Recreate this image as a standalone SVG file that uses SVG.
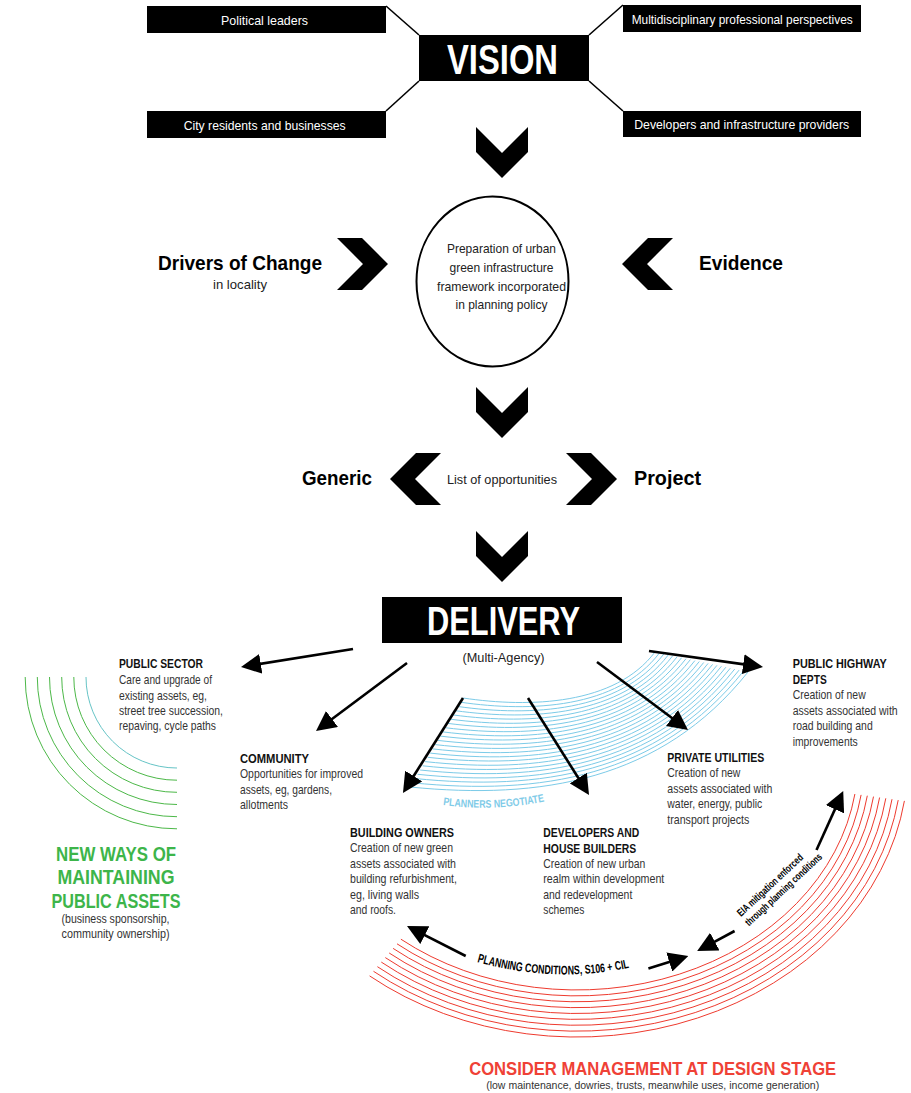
<svg xmlns="http://www.w3.org/2000/svg" width="911" height="1093" viewBox="0 0 911 1093">
<defs>
<style>
text { font-family: "Liberation Sans Narrow", "Liberation Sans", Arial, sans-serif; }
.bar { fill:#000; }
.bt { fill:#fff; font-size:13.5px; text-anchor:middle; }
.big { fill:#fff; font-weight:bold; text-anchor:middle; }
.lbl { fill:#000; font-weight:bold; font-size:21px; }
.mid { fill:#222; font-size:13px; }
.c { text-anchor:middle; }
.h { fill:#111; font-weight:bold; font-size:12.5px; }
.b { fill:#333; font-size:13px; }
.chev { fill:#000; }
.conn { stroke:#000; stroke-width:1.6; fill:none; }
.arr { stroke:#000; stroke-width:2.6; fill:none; marker-end:url(#ah); }
.blue path { stroke:#7ccbe8; stroke-width:1; fill:none; }
.red path { stroke:#ee3a2e; stroke-width:1; fill:none; }
.green path { stroke:#4cb848; stroke-width:1; fill:none; }
.gt { fill:#3db54a; font-weight:bold; font-size:20px; text-anchor:middle; }
.rt { fill:#ef4136; font-weight:bold; font-size:18px; text-anchor:middle; }
.small { fill:#000; font-weight:bold; }
</style>
<marker id="ah" viewBox="0 0 20 20" refX="10" refY="10" markerWidth="20" markerHeight="20" markerUnits="userSpaceOnUse" orient="auto">
<path d="M0,0 L20,10 L0,20 Z" fill="#000"/>
</marker>
<path id="chev" d="M0,0 L25,0 L51,26 L25,52 L0,52 L26,26 Z"/>
<path id="pn" d="M443,805 Q494,812 546,801"/>
<path id="pc" d="M477,962 Q556,984 633,967"/>
</defs>
<rect width="911" height="1093" fill="#fff"/>

<!-- background arcs -->
<g id="green-arcs" class="green">
<path d="M86,677 A91,91 0 0 0 177,768" style="stroke:#66c4c6"/>
<path d="M73.8,677 A103.2,103.2 0 0 0 177,780.2"/>
<path d="M61.7,677 A115.3,115.3 0 0 0 177,792.3"/>
<path d="M49.5,677 A127.5,127.5 0 0 0 177,804.5"/>
<path d="M37.3,677 A139.7,139.7 0 0 0 177,816.7"/>
<path d="M25.2,677 A151.8,151.8 0 0 0 177,828.8"/>
</g>

<g id="planners-negotiate-band" class="blue">
<path d="M463,698 C530,708 615,705 655,652"/>
<path d="M460.5,702.2 C530.5,712.4 617.2,708.6 659.4,653"/>
<path d="M458,706.5 C531,716.8 619.4,712.2 663.9,653.9"/>
<path d="M455.4,710.7 C531.4,721.1 621.6,715.9 668.3,654.9"/>
<path d="M452.9,714.9 C531.9,725.5 623.8,719.5 672.7,655.8"/>
<path d="M450.4,719.2 C532.4,729.9 626,723.1 677.1,656.8"/>
<path d="M447.9,723.4 C532.9,734.3 628.1,726.7 681.6,657.7"/>
<path d="M445.3,727.7 C533.3,738.7 630.3,730.3 686,658.7"/>
<path d="M442.8,731.9 C533.8,743 632.5,734 690.4,659.6"/>
<path d="M440.3,736.1 C534.3,747.4 634.7,737.6 694.9,660.6"/>
<path d="M437.8,740.4 C534.8,751.8 636.9,741.2 699.3,661.5"/>
<path d="M435.2,744.6 C535.2,756.2 639.1,744.8 703.7,662.5"/>
<path d="M432.7,748.9 C535.7,760.6 641.3,748.4 708.1,663.4"/>
<path d="M430.2,753.1 C536.2,765 643.5,752 712.6,664.4"/>
<path d="M427.7,757.3 C536.7,769.3 645.7,755.7 717,665.3"/>
<path d="M425.1,761.6 C537.1,773.7 647.9,759.3 721.4,666.3"/>
<path d="M422.6,765.8 C537.6,778.1 650,762.9 725.9,667.2"/>
<path d="M420.1,770 C538.1,782.5 652.2,766.5 730.3,668.2"/>
<path d="M417.6,774.3 C538.6,786.9 654.4,770.1 734.7,669.1"/>
<path d="M415,778.5 C539,791.2 656.6,773.8 739.1,670.1"/>
<path d="M412.5,782.8 C539.5,795.6 658.8,777.4 743.6,671"/>
<path d="M410,787 C540,800 661,781 748,672"/>
</g>

<g id="red-arcs" class="red">
<path d="M400.9,939.2 A281,230 0 0 0 854.9,794"/>
<path d="M397,943.8 A287.25,235.875 0 0 0 861.1,794.9"/>
<path d="M393.1,948.4 A293.5,241.75 0 0 0 867.3,795.7"/>
<path d="M389.2,953 A299.75,247.625 0 0 0 873.5,796.6"/>
<path d="M385.3,957.6 A306,253.5 0 0 0 879.6,797.5"/>
<path d="M381.3,962.1 A312.25,259.375 0 0 0 885.8,798.3"/>
<path d="M377.4,966.7 A318.5,265.25 0 0 0 892,799.2"/>
<path d="M373.5,971.3 A324.75,271.125 0 0 0 898.2,800.1"/>
<path d="M369.6,975.9 A331,277 0 0 0 904.4,800.9"/>
</g>

<!-- connectors -->
<g id="connectors">
<line class="conn" x1="386" y1="6" x2="419" y2="35"/>
<line class="conn" x1="419" y1="81" x2="386" y2="111"/>
<line class="conn" x1="589" y1="35" x2="623" y2="5"/>
<line class="conn" x1="589" y1="81" x2="623" y2="111"/>
<use href="#chev" class="chev" transform="translate(528,127) rotate(90)"/>
<use href="#chev" class="chev" transform="translate(337,238)"/>
<use href="#chev" class="chev" transform="translate(673,238) scale(-1,1)"/>
<use href="#chev" class="chev" transform="translate(528,387) rotate(90)"/>
<use href="#chev" class="chev" transform="translate(441,453) scale(-1,1)"/>
<use href="#chev" class="chev" transform="translate(566,453)"/>
<use href="#chev" class="chev" transform="translate(528,531) rotate(90)"/>
<path class="arr" d="M353,649 L250.9,665.4"/>
<path class="arr" d="M407,663 L324,725"/>
<path class="arr" d="M463,698 L408.3,784.5"/>
<path class="arr" d="M528,698 L583.7,786.5"/>
<path class="arr" d="M597,662 L680,724"/>
<path class="arr" d="M649,651 L753.1,665.6"/>
<path class="arr" d="M465.7,956 L415.9,930.6"/>
<path class="arr" d="M648.4,968.6 L678.8,959"/>
<path class="arr" d="M734.6,931 L706,946.3"/>
<path class="arr" d="M816.5,850 L839.1,800.1"/>
</g>

<!-- nodes -->
<g id="political-leaders">
<rect class="bar" x="147" y="6" width="239" height="27"/>
<text class="bt" x="264.5" y="24.5" textLength="87" lengthAdjust="spacingAndGlyphs">Political leaders</text>
</g>
<g id="city-residents">
<rect class="bar" x="147" y="111" width="239" height="27"/>
<text class="bt" x="264.7" y="129.5" textLength="162" lengthAdjust="spacingAndGlyphs">City residents and businesses</text>
</g>
<g id="multidisciplinary">
<rect class="bar" x="623" y="5" width="238" height="27"/>
<text class="bt" x="742.2" y="23.5" textLength="221" lengthAdjust="spacingAndGlyphs">Multidisciplinary professional perspectives</text>
</g>
<g id="developers-providers">
<rect class="bar" x="623" y="111" width="238" height="26"/>
<text class="bt" x="741.7" y="129" textLength="215" lengthAdjust="spacingAndGlyphs">Developers and infrastructure providers</text>
</g>
<g id="vision">
<rect class="bar" x="419" y="35" width="170" height="46"/>
<text class="big" x="502.5" y="74" font-size="43" textLength="111" lengthAdjust="spacingAndGlyphs">VISION</text>
</g>

<g id="drivers">
<text class="lbl" x="158" y="270" textLength="164" lengthAdjust="spacingAndGlyphs">Drivers of Change</text>
<text class="mid c" x="240" y="289" textLength="54" lengthAdjust="spacingAndGlyphs">in locality</text>
</g>
<g id="evidence">
<text class="lbl" x="699" y="270" textLength="84" lengthAdjust="spacingAndGlyphs">Evidence</text>
</g>
<g id="framework">
<ellipse cx="492.5" cy="281.5" rx="76" ry="85" fill="#fff" stroke="#000" stroke-width="2"/>
<text class="mid c" x="501.5" y="253" textLength="109" lengthAdjust="spacingAndGlyphs">Preparation of urban</text>
<text class="mid c" x="501.5" y="272" textLength="104" lengthAdjust="spacingAndGlyphs">green infrastructure</text>
<text class="mid c" x="501.5" y="290.5" textLength="129" lengthAdjust="spacingAndGlyphs">framework incorporated</text>
<text class="mid c" x="501.5" y="309" textLength="92" lengthAdjust="spacingAndGlyphs">in planning policy</text>
</g>
<g id="generic">
<text class="lbl" x="302" y="484.5" textLength="70" lengthAdjust="spacingAndGlyphs">Generic</text>
</g>
<g id="opportunities">
<text class="mid c" x="502" y="483.5" textLength="110" lengthAdjust="spacingAndGlyphs">List of opportunities</text>
</g>
<g id="project">
<text class="lbl" x="634" y="484.5" textLength="67" lengthAdjust="spacingAndGlyphs">Project</text>
</g>
<g id="delivery">
<rect class="bar" x="382" y="597" width="240" height="46"/>
<text class="big" x="503.5" y="635" font-size="40" textLength="153" lengthAdjust="spacingAndGlyphs">DELIVERY</text>
<text class="mid c" x="503.5" y="662" textLength="82" lengthAdjust="spacingAndGlyphs">(Multi-Agency)</text>
</g>

<g id="public-sector">
<text class="h" x="119" y="667.7" textLength="84" lengthAdjust="spacingAndGlyphs">PUBLIC SECTOR</text>
<text class="b" x="119" y="684.3" textLength="93" lengthAdjust="spacingAndGlyphs">Care and upgrade of</text>
<text class="b" x="119" y="699.5" textLength="88" lengthAdjust="spacingAndGlyphs">existing assets, eg,</text>
<text class="b" x="119" y="714.8" textLength="104" lengthAdjust="spacingAndGlyphs">street tree succession,</text>
<text class="b" x="119" y="730" textLength="97" lengthAdjust="spacingAndGlyphs">repaving, cycle paths</text>
</g>
<g id="community">
<text class="h" x="240" y="762.7" textLength="69" lengthAdjust="spacingAndGlyphs">COMMUNITY</text>
<text class="b" x="240" y="778.3" textLength="123" lengthAdjust="spacingAndGlyphs">Opportunities for improved</text>
<text class="b" x="240" y="793.8" textLength="92" lengthAdjust="spacingAndGlyphs">assets, eg, gardens,</text>
<text class="b" x="240" y="809" textLength="48" lengthAdjust="spacingAndGlyphs">allotments</text>
</g>
<g id="building-owners">
<text class="h" x="350" y="836.7" textLength="104" lengthAdjust="spacingAndGlyphs">BUILDING OWNERS</text>
<text class="b" x="350" y="852.3" textLength="103" lengthAdjust="spacingAndGlyphs">Creation of new green</text>
<text class="b" x="350" y="867.5" textLength="106" lengthAdjust="spacingAndGlyphs">assets associated with</text>
<text class="b" x="350" y="883" textLength="107" lengthAdjust="spacingAndGlyphs">building refurbishment,</text>
<text class="b" x="350" y="898.5" textLength="69" lengthAdjust="spacingAndGlyphs">eg, living walls</text>
<text class="b" x="350" y="914" textLength="46" lengthAdjust="spacingAndGlyphs">and roofs.</text>
</g>
<g id="developers-builders">
<text class="h" x="543.3" y="836.7" textLength="96" lengthAdjust="spacingAndGlyphs">DEVELOPERS AND</text>
<text class="h" x="543.3" y="852.7" textLength="93" lengthAdjust="spacingAndGlyphs">HOUSE BUILDERS</text>
<text class="b" x="543.3" y="867.7" textLength="102" lengthAdjust="spacingAndGlyphs">Creation of new urban</text>
<text class="b" x="543.3" y="883.2" textLength="121" lengthAdjust="spacingAndGlyphs">realm within development</text>
<text class="b" x="543.3" y="898.7" textLength="89" lengthAdjust="spacingAndGlyphs">and redevelopment</text>
<text class="b" x="543.3" y="914" textLength="41" lengthAdjust="spacingAndGlyphs">schemes</text>
</g>
<g id="private-utilities">
<text class="h" x="667.3" y="761.7" textLength="97" lengthAdjust="spacingAndGlyphs">PRIVATE UTILITIES</text>
<text class="b" x="667.3" y="777.3" textLength="73" lengthAdjust="spacingAndGlyphs">Creation of new</text>
<text class="b" x="667.3" y="792.5" textLength="105" lengthAdjust="spacingAndGlyphs">assets associated with</text>
<text class="b" x="667.3" y="808" textLength="95" lengthAdjust="spacingAndGlyphs">water, energy, public</text>
<text class="b" x="667.3" y="824" textLength="82" lengthAdjust="spacingAndGlyphs">transport projects</text>
</g>
<g id="public-highway">
<text class="h" x="792.7" y="667.7" textLength="94" lengthAdjust="spacingAndGlyphs">PUBLIC HIGHWAY</text>
<text class="h" x="792.7" y="684" textLength="34" lengthAdjust="spacingAndGlyphs">DEPTS</text>
<text class="b" x="792.7" y="699.3" textLength="73" lengthAdjust="spacingAndGlyphs">Creation of new</text>
<text class="b" x="792.7" y="714.5" font-size="11.5" textLength="105" lengthAdjust="spacingAndGlyphs" style="font-size:12px">assets associated with</text>
<text class="b" x="792.7" y="730" textLength="80" lengthAdjust="spacingAndGlyphs">road building and</text>
<text class="b" x="792.7" y="745.5" textLength="65" lengthAdjust="spacingAndGlyphs">improvements</text>
</g>

<g id="new-ways">
<text class="gt" x="116" y="860.7" textLength="120" lengthAdjust="spacingAndGlyphs">NEW WAYS OF</text>
<text class="gt" x="116" y="884.3" textLength="117" lengthAdjust="spacingAndGlyphs">MAINTAINING</text>
<text class="gt" x="116" y="908" textLength="129" lengthAdjust="spacingAndGlyphs">PUBLIC ASSETS</text>
<text class="b c" x="115.5" y="923.3" textLength="108" lengthAdjust="spacingAndGlyphs">(business sponsorship,</text>
<text class="b c" x="115.5" y="938.3" textLength="108" lengthAdjust="spacingAndGlyphs">community ownership)</text>
</g>

<g id="planners-negotiate">
<text font-size="11" font-weight="bold" fill="#7fcbe8"><textPath href="#pn" textLength="102" lengthAdjust="spacingAndGlyphs">PLANNERS NEGOTIATE</textPath></text>
</g>
<g id="planning-conditions">
<text class="small" font-size="12.5"><textPath href="#pc" textLength="154" lengthAdjust="spacingAndGlyphs">PLANNING CONDITIONS, S106 + CIL</textPath></text>
</g>
<g id="eia">
<text class="small" font-size="10.5" transform="translate(741,917) rotate(-43)" textLength="86" lengthAdjust="spacingAndGlyphs">EIA mitigation enforced</text>
<text class="small" font-size="10.5" transform="translate(749,926.5) rotate(-43)" textLength="101" lengthAdjust="spacingAndGlyphs">through planning conditions</text>
</g>

<g id="consider-management">
<text class="rt" x="652.7" y="1075" textLength="367" lengthAdjust="spacingAndGlyphs">CONSIDER MANAGEMENT AT DESIGN STAGE</text>
<text class="b c" x="652.7" y="1089" style="font-size:11px" textLength="333" lengthAdjust="spacingAndGlyphs">(low maintenance, dowries, trusts, meanwhile uses, income generation)</text>
</g>
</svg>
